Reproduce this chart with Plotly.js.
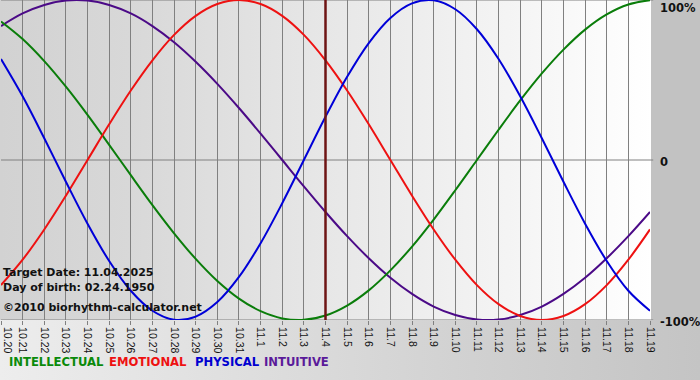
<!DOCTYPE html>
<html>
<head>
<meta charset="utf-8">
<script src="https://cdn.plot.ly/plotly-3.0.1.min.js"></script>
<style>
  html, body { margin:0; padding:0; }
  body { width:700px; height:380px; position:relative; overflow:hidden;
         background: linear-gradient(to right, #ededed 0%, #d6d6d6 55%, #c4c4c4 100%); }
  #rightbg { position:absolute; left:650px; top:0; width:50px; height:320px; background:#c2c2c2; }
  #plotbg { position:absolute; left:0; top:0; width:651px; height:320px;
            background: linear-gradient(to right, #d2d2d2 0%, #d8d8d8 20%, #e7e7e7 50%, #f5f5f5 80%, #ffffff 100%); }
  #chart { position:absolute; left:0; top:0; width:700px; height:380px; }
</style>
</head>
<body>
<div id="rightbg"></div>
<div id="plotbg"></div>
<div id="chart"></div>
<script>
const dates = ["10.20","10.21","10.22","10.23","10.24","10.25","10.26","10.27","10.28","10.29","10.30","10.31",
  "11.1","11.2","11.3","11.4","11.5","11.6","11.7","11.8","11.9","11.10","11.11","11.12","11.13","11.14",
  "11.15","11.16","11.17","11.18","11.19"];

const physical = [0.631,0.398,0.136,-0.136,-0.398,-0.631,-0.817,-0.942,-0.998,-0.979,-0.888,-0.731,-0.520,-0.270,
  0.000,0.270,0.520,0.731,0.888,0.979,0.998,0.942,0.817,0.631,0.398,0.136,-0.136,-0.398,-0.631,-0.817,-0.942];

const emotional = [-0.782,-0.623,-0.434,-0.223,0.000,0.223,0.434,0.623,0.782,0.901,0.975,1.000,0.975,0.901,
  0.782,0.623,0.434,0.223,0.000,-0.223,-0.434,-0.623,-0.782,-0.901,-0.975,-1.000,-0.975,-0.901,-0.782,-0.623,-0.434];

const intellectual = [0.866,0.756,0.618,0.458,0.282,0.095,-0.095,-0.282,-0.458,-0.618,-0.756,-0.866,-0.945,-0.990,
  -0.999,-0.972,-0.910,-0.815,-0.690,-0.541,-0.372,-0.189,0.000,0.189,0.372,0.541,0.690,0.815,0.910,0.972,0.999];

const intuitive = [0.837,0.916,0.969,0.997,0.997,0.969,0.916,0.837,0.736,0.614,0.476,0.325,0.165,0.000,
  -0.165,-0.325,-0.476,-0.614,-0.736,-0.837,-0.916,-0.969,-0.997,-0.997,-0.969,-0.916,-0.837,-0.736,-0.614,-0.476,-0.325];

const targetIndex = 15;
const targetText = "Target Date: 11.04.2025";
const birthText = "Day of birth: 02.24.1950";
const creditText = "\u00A92010 biorhythm-calculator.net";
const yTickVals = [1, 0, -1];
const yTickText = ["100%", "0", "-100%"];
const legendNames = ["INTELLECTUAL", "EMOTIONAL", "PHYSICAL", "INTUITIVE"];
const legendColors = ["#0a8a0a", "#ee1111", "#0000d0", "#5a1a9a"];
const legendX = [7, 107, 193, 262];

const xIdx = dates.map((d, i) => i);
// first label is drawn as an annotation so that it stays inside the picture
const tickText = dates.map((d, i) => i === 0 ? "" : d);

function tr(y, color) {
  return { x: xIdx, y: y, type: 'scatter', mode: 'lines',
           line: { color: color, width: 2, shape: 'spline', smoothing: 1 },
           hoverinfo: 'skip', showlegend: false };
}

const data = [
  tr(intuitive, '#4b0a87'),
  tr(intellectual, '#0a7d0a'),
  tr(emotional, '#ee1111'),
  tr(physical, '#0000d8')
];

const font = "DejaVu Sans, Verdana, sans-serif";
const tickFont = {family:'Liberation Sans, Arial, sans-serif', size:10.5, color:'#111'};

const annotations = [
  { xref:'paper', yref:'paper', x:0.0, y:0.150, xanchor:'left', yanchor:'middle', showarrow:false,
    text:'<b>'+targetText+'</b>', font:{family:font, size:11, color:'#111'} },
  { xref:'paper', yref:'paper', x:0.0, y:0.103, xanchor:'left', yanchor:'middle', showarrow:false,
    text:'<b>'+birthText+'</b>', font:{family:font, size:11, color:'#111'} },
  { xref:'paper', yref:'paper', x:0.0, y:0.040, xanchor:'left', yanchor:'middle', showarrow:false,
    text:'<b>'+creditText+'</b>', font:{family:font, size:11, color:'#111'} },
  { xref:'x', yref:'paper', x:0, y:0, xanchor:'left', yanchor:'top', yshift:-5, xshift:-1, showarrow:false,
    textangle:90, text:dates[0], font:tickFont }
];
legendNames.forEach((n, i) => {
  annotations.push({ xref:'paper', yref:'paper', x:(legendX[i]-1)/649, y:-0.131, xanchor:'left', yanchor:'middle',
    showarrow:false, text:'<b>'+n+'</b>', font:{family:font, size:11.6, color:legendColors[i]} });
});
yTickVals.forEach((v, i) => {
  annotations.push({ xref:'paper', yref:'y', x:1.013, y:v, xanchor:'left',
    yanchor: v === 1 ? 'top' : 'middle', yshift: v === 1 ? 1 : -2, showarrow:false,
    text:'<b>'+yTickText[i]+'</b>', font:{family:font, size:11.5, color:'#111'} });
});

const shapes = [];
yTickVals.forEach(v => {
  shapes.push({ type:'line', xref:'paper', yref:'y', x0:0, x1:1.005, y0:v, y1:v,
                line:{color:'#808080', width:1}, layer:'below' });
});
shapes.push({ type:'line', xref:'x', yref:'paper', x0:targetIndex, x1:targetIndex, y0:0, y1:1,
              line:{color:'#6e1414', width:2.5}, layer:'above' });

const layout = {
  width:700, height:380,
  margin:{l:1, r:50, t:0, b:60, pad:0},
  paper_bgcolor:'rgba(0,0,0,0)', plot_bgcolor:'rgba(0,0,0,0)',
  showlegend:false,
  xaxis:{ range:[0,30], tickmode:'array', tickvals:xIdx, ticktext:tickText, tickangle:90,
          ticks:'outside', ticklen:4, tickwidth:1, tickcolor:'#808080', ticklabeloverflow:'allow',
          showgrid:true, gridcolor:'#808080', gridwidth:1, zeroline:false, showline:false,
          tickfont:tickFont, fixedrange:true },
  yaxis:{ range:[-1,1], showgrid:false, zeroline:false, showticklabels:false, ticks:'', showline:false, fixedrange:true },
  annotations: annotations,
  shapes: shapes
};

Plotly.newPlot('chart', data, layout, {displayModeBar:false, staticPlot:true});
</script>
</body>
</html>
